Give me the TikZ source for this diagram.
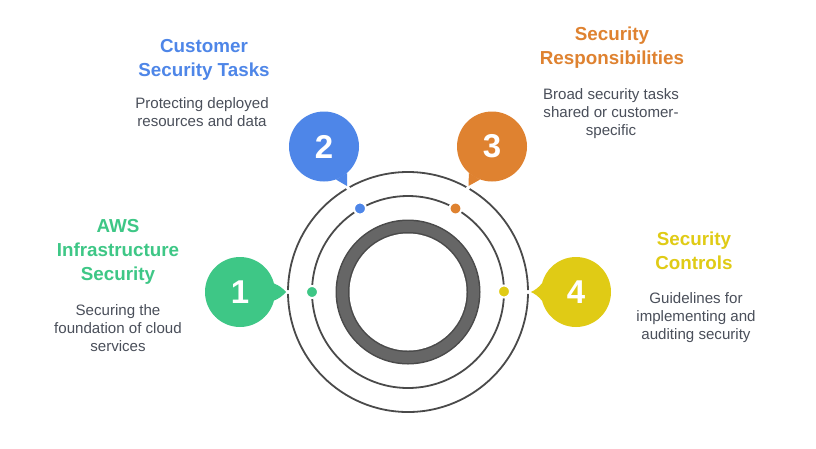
\documentclass[tikz,border=0pt]{standalone}
\usepackage{fontspec}
\setmainfont{Liberation Sans}
\definecolor{cgreen}{HTML}{3EC786}
\definecolor{cblue}{HTML}{4E86E8}
\definecolor{corange}{HTML}{DF8230}
\definecolor{cyellow}{HTML}{E0CB15}
\definecolor{ctext}{HTML}{4A4F5A}
\definecolor{cline}{HTML}{4A4A4A}
\tikzset{
  orbit/.style={draw=cline,line width=1.8pt,fill=none},
  bubble/.style={circle,minimum size=70pt,inner sep=0pt,text=white,font=\fontsize{33}{33}\selectfont\bfseries},
  tail/.style={line width=0pt},
  curl/.style={bend left=12},
  dotmark/.style={circle,minimum size=12pt,inner sep=0pt,draw=white,line width=2pt},
  gapmark/.style={circle,minimum size=4pt,inner sep=0pt,fill=white},
  heading/.style={align=center,inner sep=0pt,font=\fontsize{18.8}{24}\selectfont\bfseries},
  body/.style={align=center,inner sep=0pt,text=ctext,font=\fontsize{15.1}{18}\selectfont},
}
\begin{document}
\begin{tikzpicture}[x=1pt,y=-1pt]
\useasboundingbox[fill=white] (0,0) rectangle (816,448);
\coordinate (c) at (408,292);
% orbits and ring
\draw[orbit] (c) circle[radius=120];
\draw[orbit] (c) circle[radius=96];
\fill[fill=cline] (c) circle[radius=72.5];
\fill[fill=black!60] (c) circle[radius=71];
\fill[fill=cline] (c) circle[radius=60];
\fill[fill=white] (c) circle[radius=58.5];
% tail tips
\coordinate (t1) at (286,292);
\coordinate (t2) at (347,186);
\coordinate (t3) at (468.5,186);
\coordinate (t4) at (531,292);
% gaps in the outer orbit
\node[gapmark] at (288,292) {};
\node[gapmark] at (348,188) {};
\node[gapmark] at (468,188) {};
\node[gapmark] at (528,292) {};
% bubbles
\node[bubble,fill=cgreen] (b1) at (240,292) {1};
\node[bubble,fill=cblue] (b2) at (324,146.5) {2};
\node[bubble,fill=corange] (b3) at (492,146.5) {3};
\node[bubble,fill=cyellow] (b4) at (576,292) {4};
\fill[cgreen,tail] (b1.14) to[curl] (t1) to[curl] (b1.-14) -- cycle;
\fill[cblue,tail] (b2.-49) -- (t2) -- (b2.-70) -- cycle;
\fill[corange,tail] (b3.-110) -- (t3) -- (b3.-131) -- cycle;
\fill[cyellow,tail] (b4.166) to[curl] (t4) to[curl] (b4.194) -- cycle;
% dots
\node[dotmark,fill=cgreen] (d1) at (312,292) {};
\node[dotmark,fill=cblue] (d2) at (360,208.5) {};
\node[dotmark,fill=corange] (d3) at (455.5,208.5) {};
\node[dotmark,fill=cyellow] (d4) at (504,291.5) {};
% texts
\node[heading,text=cgreen] (h1) at (118,251.5) {AWS\\Infrastructure\\Security};
\node[body] (p1) at (118,328) {Securing the\\foundation of cloud\\services};
\node[heading,text=cblue] (h2) at (204,59.5) {Customer\\Security Tasks};
\node[body] (p2) at (202,112) {Protecting deployed\\resources and data};
\node[heading,text=corange] (h3) at (612,47.5) {Security\\Responsibilities};
\node[body] (p3) at (611,113.5) {Broad security tasks\\shared or customer-\\specific};
\node[heading,text=cyellow] (h4) at (694,250.5) {Security\\Controls};
\node[body] (p4) at (696,317.5) {Guidelines for\\implementing and\\auditing security};
\end{tikzpicture}
\end{document}
